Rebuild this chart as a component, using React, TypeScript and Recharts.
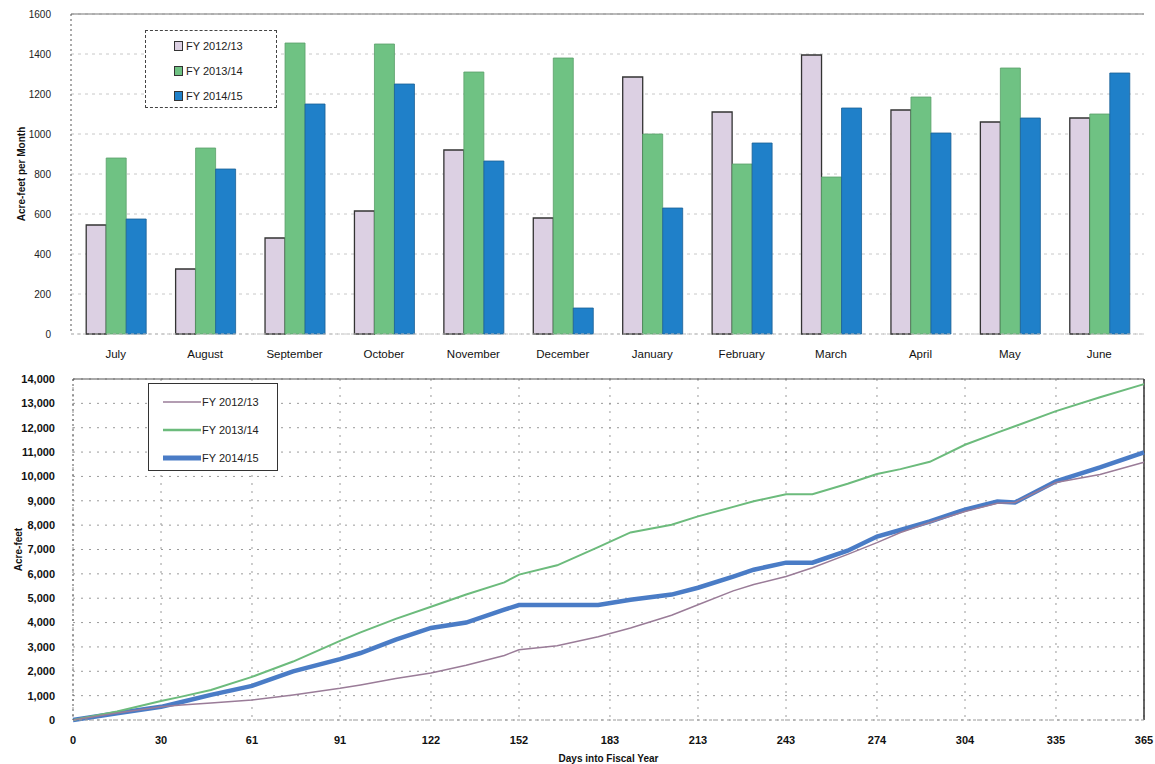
import React from 'react';
import {
  BarChart, Bar, XAxis, YAxis, CartesianGrid, Legend,
  LineChart, Line, ReferenceLine,
} from 'recharts';

// ---- Monthly deliveries (acre-feet per month) ----
const months = ['July', 'August', 'September', 'October', 'November', 'December', 'January', 'February', 'March', 'April', 'May', 'June'];
const fy1213Monthly = [545, 325, 480, 615, 920, 580, 1285, 1110, 1395, 1120, 1060, 1080];
const fy1314Monthly = [880, 930, 1455, 1450, 1310, 1380, 1000, 850, 785, 1185, 1330, 1100];
const fy1415Monthly = [575, 825, 1150, 1250, 865, 130, 630, 955, 1130, 1005, 1080, 1305];
const monthlyTicks = [0, 200, 400, 600, 800, 1000, 1200, 1400, 1600];

// ---- Cumulative (acre-feet) ----
const days = [0, 15, 30, 37, 47, 61, 75, 91, 98, 110, 122, 134, 147, 152, 165, 179, 190, 204, 213, 225, 232, 243, 252, 264, 274, 282, 292, 304, 315, 321, 335, 350, 365];
const cum1213 = [0, 290, 540, 620, 700, 820, 1030, 1300, 1440, 1700, 1930, 2250, 2650, 2880, 3050, 3420, 3780, 4300, 4730, 5300, 5560, 5890, 6250, 6800, 7280, 7700, 8110, 8560, 8900, 8930, 9750, 10080, 10580];
const cum1314 = [0, 350, 780, 960, 1230, 1770, 2400, 3250, 3600, 4150, 4650, 5150, 5650, 5970, 6350, 7100, 7700, 8020, 8360, 8750, 8980, 9270, 9270, 9700, 10100, 10300, 10600, 11300, 11800, 12060, 12680, 13250, 13790];
const cum1415 = [0, 280, 540, 740, 1030, 1400, 2000, 2500, 2750, 3300, 3780, 4000, 4530, 4720, 4720, 4720, 4940, 5150, 5430, 5890, 6170, 6460, 6460, 6950, 7530, 7800, 8150, 8640, 8970, 8930, 9800, 10370, 10990];
const dayTicks = [0, 30, 61, 91, 122, 152, 183, 213, 243, 274, 304, 335, 365];
const cumTicks = [0, 1000, 2000, 3000, 4000, 5000, 6000, 7000, 8000, 9000, 10000, 11000, 12000, 13000, 14000];

const seriesNames = ['FY 2012/13', 'FY 2013/14', 'FY 2014/15'];

const barData = months.map((m, i) => ({
  month: m,
  a: fy1213Monthly[i],
  b: fy1314Monthly[i],
  c: fy1415Monthly[i],
}));

const lineData = days.map((d, i) => ({
  day: d,
  a: cum1213[i],
  b: cum1314[i],
  c: cum1415[i],
}));

const FONT = "'Liberation Sans', Arial, sans-serif";
const PINK = '#dcd0e3';
const GREEN = '#6fc283';
const BLUE = '#1f80c9';
const LINE_PINK = '#9a7c98';
const LINE_GREEN = '#6cbb7c';
const LINE_BLUE = '#4a7cc6';

const TopLegend = () => {
  const fills = [PINK, GREEN, BLUE];
  return (
    <div style={{ fontFamily: FONT, fontSize: 11, color: '#222', paddingTop: 2 }}>
      {seriesNames.map((n, i) => (
        <div key={n} style={{ display: 'flex', alignItems: 'center', height: 25, paddingLeft: 28 }}>
          <span style={{ display: 'inline-block', width: 7, height: 8, border: '1px solid #333', background: fills[i], marginRight: 3 }} />
          <span>{n}</span>
        </div>
      ))}
    </div>
  );
};

const BottomLegend = () => {
  const specs = [
    { c: LINE_PINK, w: 1.5 },
    { c: LINE_GREEN, w: 2.5 },
    { c: LINE_BLUE, w: 5 },
  ];
  return (
    <div style={{ fontFamily: FONT, fontSize: 11, color: '#222', paddingTop: 4 }}>
      {seriesNames.map((n, i) => (
        <div key={n} style={{ display: 'flex', alignItems: 'center', height: 28, paddingLeft: 14 }}>
          <svg width={38} height={10} style={{ marginRight: 1 }}>
            <line x1={0} y1={5} x2={38} y2={5} stroke={specs[i].c} strokeWidth={specs[i].w} />
          </svg>
          <span>{n}</span>
        </div>
      ))}
    </div>
  );
};

export default function App() {
  const tickStyle = { fontFamily: FONT, fontSize: 10, fill: '#222' };
  const xTickStyle = { fontFamily: FONT, fontSize: 11.5, fill: '#111' };
  const bottomTick = { fontFamily: FONT, fontSize: 11, fill: '#111', fontWeight: 'bold' as const };
  return (
    <div style={{ position: 'absolute', left: 0, top: 0, width: 1155, height: 764, background: '#fff', overflow: 'hidden' }}>
      <div style={{ position: 'absolute', left: 0, top: 0 }}>
        <BarChart
          width={1155}
          height={364}
          data={barData}
          margin={{ top: 14, right: 11, left: 0, bottom: 0 }}
          barGap={0}
          barCategoryGap="17%"
        >
          <CartesianGrid stroke="#c8c8c8" strokeDasharray="3 4" vertical={false} />
          <XAxis
            dataKey="month"
            height={30}
            tickLine={false}
            axisLine={{ stroke: '#bbb', strokeDasharray: '3 3' }}
            tick={xTickStyle}
            tickMargin={10}
            interval={0}
          />
          <YAxis
            width={71}
            domain={[0, 1600]}
            ticks={monthlyTicks}
            tickLine={false}
            axisLine={{ stroke: '#555', strokeDasharray: '2 3' }}
            tick={tickStyle}
            tickMargin={14}
            label={{ value: 'Acre-feet per Month', angle: -90, position: 'insideLeft', offset: 21, style: { fontFamily: FONT, fontSize: 10, fontWeight: 'bold', fill: '#111', textAnchor: 'middle' } }}
          />
          <ReferenceLine y={1600} stroke="#777" strokeWidth={1.2} />
          <ReferenceLine x="June" stroke="none" />
          <Legend
            layout="horizontal"
            verticalAlign="middle"
            align="center"
            content={<TopLegend />}
            wrapperStyle={{ position: 'absolute', left: 145, top: 30, width: 132, height: 78, border: '1px dashed #444', boxSizing: 'border-box', background: '#fff' }}
          />
          <Bar dataKey="a" name={seriesNames[0]} fill={PINK} stroke="#333" strokeWidth={1.3} isAnimationActive={false} />
          <Bar dataKey="b" name={seriesNames[1]} fill={GREEN} stroke="#5a9f6a" strokeWidth={0.8} isAnimationActive={false} />
          <Bar dataKey="c" name={seriesNames[2]} fill={BLUE} stroke="#1a5f96" strokeWidth={0.8} isAnimationActive={false} />
        </BarChart>
      </div>
      <div style={{ position: 'absolute', left: 0, top: 364 }}>
        <LineChart
          width={1155}
          height={400}
          data={lineData}
          margin={{ top: 15, right: 11, left: 0, bottom: 0 }}
        >
          <CartesianGrid stroke="#9a9a9a" strokeDasharray="2 6" />
          <XAxis
            dataKey="day"
            type="number"
            domain={[0, 365]}
            ticks={dayTicks}
            height={44}
            tickLine={false}
            axisLine={{ stroke: '#999', strokeDasharray: '3 3' }}
            tick={bottomTick}
            tickMargin={10}
            label={{ value: 'Days into Fiscal Year', position: 'insideBottom', offset: 2, style: { fontFamily: FONT, fontSize: 10, fontWeight: 'bold', fill: '#111' } }}
          />
          <YAxis
            width={73}
            domain={[0, 14000]}
            ticks={cumTicks}
            tickLine={false}
            axisLine={{ stroke: '#555', strokeDasharray: '2 3' }}
            tick={bottomTick}
            tickMargin={12}
            tickFormatter={(v: number) => v.toLocaleString('en-US')}
            label={{ value: 'Acre-feet', angle: -90, position: 'insideLeft', offset: 18, style: { fontFamily: FONT, fontSize: 10, fontWeight: 'bold', fill: '#111', textAnchor: 'middle' } }}
          />
          <ReferenceLine y={14000} stroke="#555" strokeWidth={1.2} />
          <ReferenceLine x={365} stroke="#333" strokeWidth={1.5} />
          <Legend
            layout="horizontal"
            verticalAlign="middle"
            align="center"
            content={<BottomLegend />}
            wrapperStyle={{ position: 'absolute', left: 148, top: 19, width: 130, height: 88, border: '1px solid #333', boxSizing: 'border-box', background: '#fff' }}
          />
          <Line dataKey="c" name={seriesNames[2]} stroke={LINE_BLUE} strokeWidth={4.5} dot={false} type="linear" isAnimationActive={false} />
          <Line dataKey="b" name={seriesNames[1]} stroke={LINE_GREEN} strokeWidth={2} dot={false} type="linear" isAnimationActive={false} />
          <Line dataKey="a" name={seriesNames[0]} stroke={LINE_PINK} strokeWidth={1.5} dot={false} type="linear" isAnimationActive={false} />
        </LineChart>
      </div>
    </div>
  );
}
